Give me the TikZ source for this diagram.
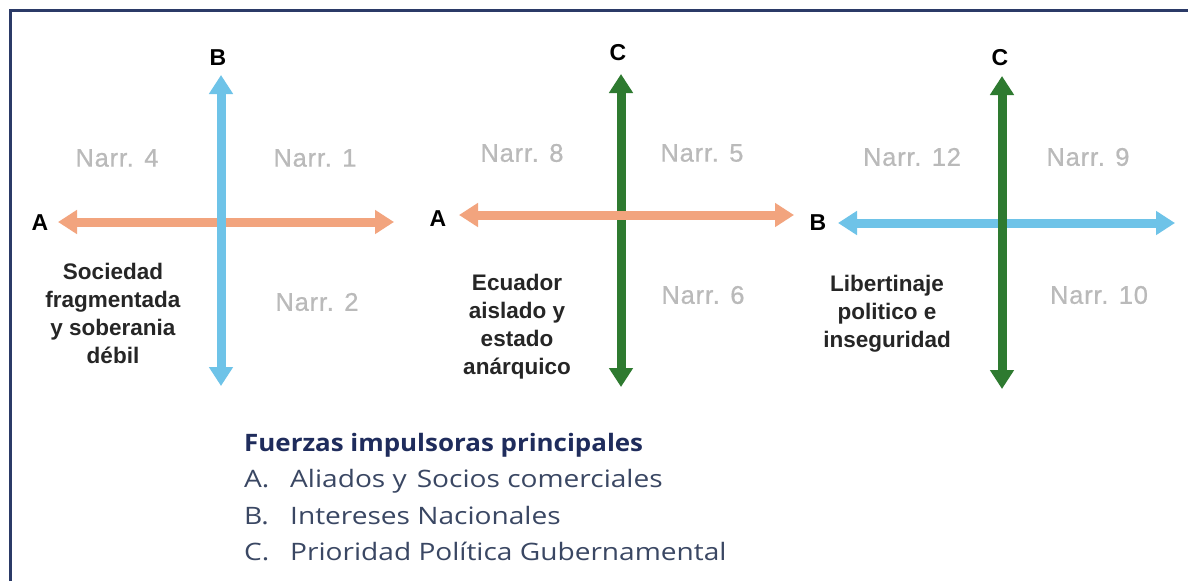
\documentclass[tikz,border=0pt]{standalone}
\usepackage{fontspec}
\setmainfont{Liberation Sans}
\newfontfamily\narrowfont[LetterSpace=3,FakeBold=0.7]{Liberation Sans}
\newfontfamily\legtitfont[FakeStretch=1.08]{Open Sans}
\newfontfamily\legitfont[FakeStretch=1.17]{Open Sans}
\usetikzlibrary{arrows.meta}
\definecolor{frameblue}{HTML}{2B3A67}
\definecolor{skyb}{HTML}{6EC3E8}
\definecolor{orng}{HTML}{F2A47E}
\definecolor{grn}{HTML}{2E7A30}
\definecolor{narrgray}{HTML}{BABABA}
\definecolor{legtitle}{HTML}{1F2C5C}
\definecolor{legitem}{HTML}{3A4763}
\tikzset{
  axis/.style={line width=9pt, {Triangle[length=19pt,width=23pt]}-{Triangle[length=19pt,width=23pt]}},
  narr/.style={font=\narrowfont\fontsize{25.5}{30}\selectfont, text=narrgray, inner sep=0pt},
  axlabel/.style={font=\bfseries\fontsize{23}{26}\selectfont, text=black, inner sep=0pt},
  scen/.style={font=\bfseries\fontsize{22.5}{28}\selectfont, text=black!85, align=center, inner sep=0pt},
  legtit/.style={font=\legtitfont\bfseries\fontsize{24}{28}\selectfont, text=legtitle, anchor=base west, inner sep=0pt},
  legit/.style={font=\legitfont\fontsize{24}{28}\selectfont, text=legitem, anchor=base west, inner sep=0pt}
}
\begin{document}
\begin{tikzpicture}[x=1pt,y=-1pt]
\useasboundingbox (0,0) rectangle (1188,581);
\fill[white] (0,0) rectangle (1188,581);
% frame
\draw[frameblue, line width=3pt] (10,581) -- (10,10) -- (1188,10);

% ---------- Panel 1 ----------
\coordinate (p1l) at (58,222);
\coordinate (p1r) at (394,222);
\coordinate (p1t) at (221,75);
\coordinate (p1b) at (221,386);
\draw[axis, orng] (p1l) -- (p1r);
\draw[axis, skyb] (p1t) -- (p1b);
\node[axlabel] (p1B) at (218,58) {B};
\node[axlabel] (p1A) at (40,223) {A};
\node[narr] (n4) at (117,158) {Narr. 4};
\node[narr] (n1) at (315,158) {Narr. 1};
\node[narr] (n2) at (317,302) {Narr. 2};
\node[scen] (s1) at (113,313) {Sociedad\\fragmentada\\y soberania\\débil};

% ---------- Panel 2 ----------
\coordinate (p2l) at (459,215);
\coordinate (p2r) at (794,215);
\coordinate (p2t) at (621,74);
\coordinate (p2b) at (621,387);
\draw[axis, grn] (p2t) -- (p2b);
\draw[axis, orng] (p2l) -- (p2r);
\node[axlabel] (p2C) at (618,53) {C};
\node[axlabel] (p2A) at (438,219) {A};
\node[narr] (n8) at (522,153) {Narr. 8};
\node[narr] (n5) at (702,153) {Narr. 5};
\node[narr] (n6) at (703,295) {Narr. 6};
\node[scen] (s2) at (517,327) {Ecuador\\aislado y\\estado\\anárquico};

% ---------- Panel 3 ----------
\coordinate (p3l) at (838,223);
\coordinate (p3r) at (1175,223);
\coordinate (p3t) at (1002,76);
\coordinate (p3b) at (1002,389);
\draw[axis, skyb] (p3l) -- (p3r);
\draw[axis, grn] (p3t) -- (p3b);
\node[axlabel] (p3C) at (1000,58) {C};
\node[axlabel] (p3B) at (818,223) {B};
\node[narr] (n12) at (912,157) {Narr. 12};
\node[narr] (n9) at (1088,157) {Narr. 9};
\node[narr] (n10) at (1099,295) {Narr. 10};
\node[scen] (s3) at (887,314) {Libertinaje\\politico e\\inseguridad};

% ---------- Legend ----------
\node[legtit] (lt) at (244,451) {Fuerzas impulsoras principales};
\node[legit] (la) at (244,487) {A.};
\node[legit] (lat) at (290,487) {Aliados y\hspace{10pt}Socios comerciales};
\node[legit] (lb) at (244,524) {B.};
\node[legit] (lbt) at (290,524) {Intereses Nacionales};
\node[legit] (lc) at (244,560) {C.};
\node[legit] (lct) at (290,560) {Prioridad Política Gubernamental};
\end{tikzpicture}
\end{document}
